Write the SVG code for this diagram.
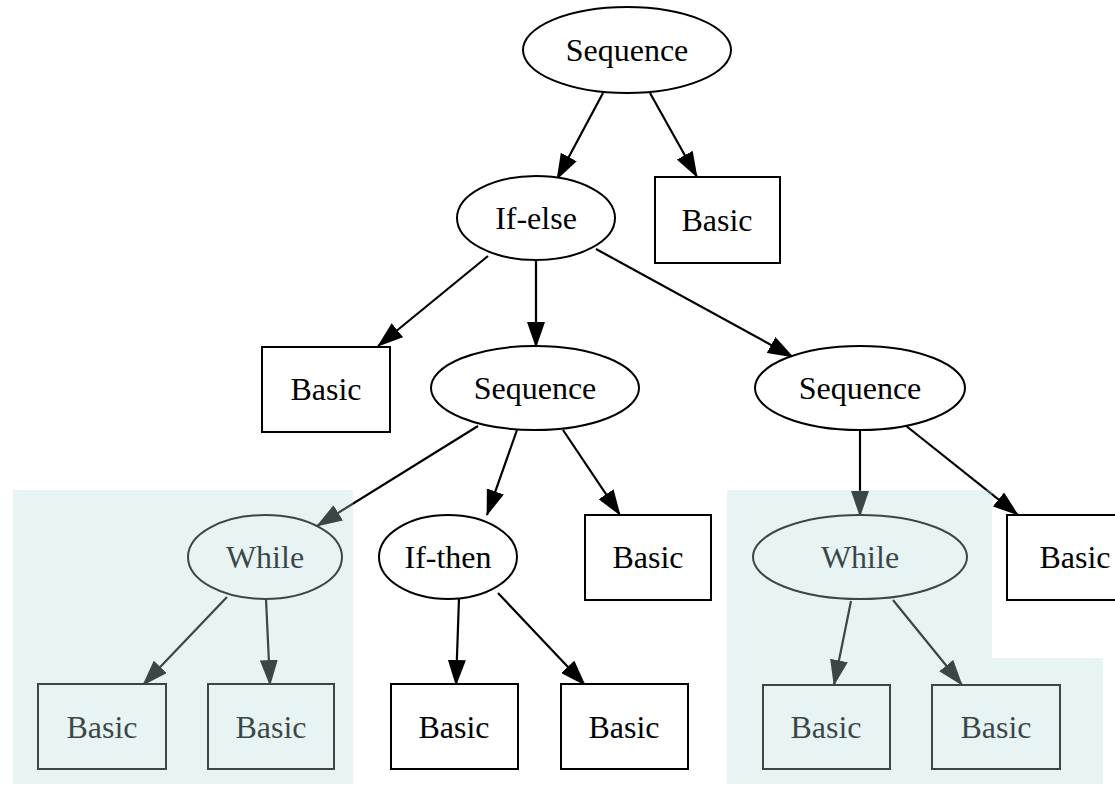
<svg xmlns="http://www.w3.org/2000/svg" width="1115" height="785" viewBox="0 0 1115 785">
<defs>
<marker id="ah" markerUnits="userSpaceOnUse" markerWidth="26" markerHeight="18" refX="25" refY="9" orient="auto" viewBox="0 0 26 18">
<path d="M0,0 L26,9 L0,18 z" fill="#000"/>
</marker>
<style>
.n ellipse, .n rect { fill: #fff; stroke: #000; stroke-width: 2; }
.n text { font-family: "Liberation Serif", "Times New Roman", serif; font-size: 32px; text-anchor: middle; fill: #000; }
#edges line { stroke: #000; stroke-width: 2.2; marker-end: url(#ah); }
.shade { fill: rgb(182,221,221); fill-opacity: 0.32; }
</style>
</defs>
<rect width="1115" height="785" fill="#fff"/>
<g id="edges">
<line x1="603" y1="93" x2="557" y2="179"/>
<line x1="650" y1="93" x2="697" y2="177"/>
<line x1="488" y1="256" x2="378" y2="346"/>
<line x1="536" y1="260" x2="536" y2="347"/>
<line x1="596" y1="249" x2="793" y2="357"/>
<line x1="478" y1="426" x2="317" y2="526"/>
<line x1="517" y1="430" x2="487" y2="515"/>
<line x1="563" y1="430" x2="620" y2="515"/>
<line x1="860" y1="430" x2="860" y2="516"/>
<line x1="905" y1="425" x2="1018" y2="515"/>
<line x1="227" y1="597" x2="143" y2="685"/>
<line x1="266" y1="599" x2="270" y2="685"/>
<line x1="459" y1="598" x2="456" y2="685"/>
<line x1="498" y1="593" x2="585" y2="685"/>
<line x1="851" y1="601" x2="834" y2="685"/>
<line x1="893" y1="600" x2="962" y2="685"/>
</g>
<g id="seq_top" class="n"><ellipse cx="627" cy="50" rx="104" ry="43"/><text x="627" y="61">Sequence</text></g>
<g id="basic_top" class="n"><rect x="655" y="177" width="125" height="86"/><text x="717" y="231">Basic</text></g>
<g id="ifelse" class="n"><ellipse cx="536" cy="218" rx="79" ry="42"/><text x="536" y="229">If-else</text></g>
<g id="basic_l" class="n"><rect x="262" y="347" width="128" height="85"/><text x="326" y="400">Basic</text></g>
<g id="seq_mid" class="n"><ellipse cx="535" cy="388" rx="104" ry="42"/><text x="535" y="399">Sequence</text></g>
<g id="seq_right" class="n"><ellipse cx="860" cy="388" rx="105" ry="42"/><text x="860" y="399">Sequence</text></g>
<g id="while_l" class="n"><ellipse cx="265" cy="557" rx="77" ry="42"/><text x="265" y="568">While</text></g>
<g id="ifthen" class="n"><ellipse cx="448" cy="557" rx="69" ry="42"/><text x="448" y="568">If-then</text></g>
<g id="basic_mid" class="n"><rect x="585" y="515" width="126" height="85"/><text x="648" y="568">Basic</text></g>
<g id="while_r" class="n"><ellipse cx="860" cy="557" rx="107" ry="42"/><text x="860" y="568">While</text></g>
<g id="basic_rt" class="n"><rect x="1007" y="515" width="130" height="85"/><text x="1075" y="568">Basic</text></g>
<g id="basic_l1" class="n"><rect x="38" y="684" width="128" height="85"/><text x="102" y="738">Basic</text></g>
<g id="basic_l2" class="n"><rect x="208" y="684" width="126" height="85"/><text x="271" y="738">Basic</text></g>
<g id="basic_m1" class="n"><rect x="391" y="684" width="127" height="85"/><text x="454" y="738">Basic</text></g>
<g id="basic_m2" class="n"><rect x="561" y="684" width="127" height="85"/><text x="624" y="738">Basic</text></g>
<g id="basic_r1" class="n"><rect x="763" y="685" width="127" height="84"/><text x="826" y="738">Basic</text></g>
<g id="basic_r2" class="n"><rect x="932" y="685" width="128" height="84"/><text x="996" y="738">Basic</text></g>
<g id="shading">
<rect class="shade" x="13" y="490" width="340" height="294"/>
<rect class="shade" x="727" y="490" width="265" height="294"/>
<rect class="shade" x="992" y="658" width="111" height="126"/>
</g>
</svg>
